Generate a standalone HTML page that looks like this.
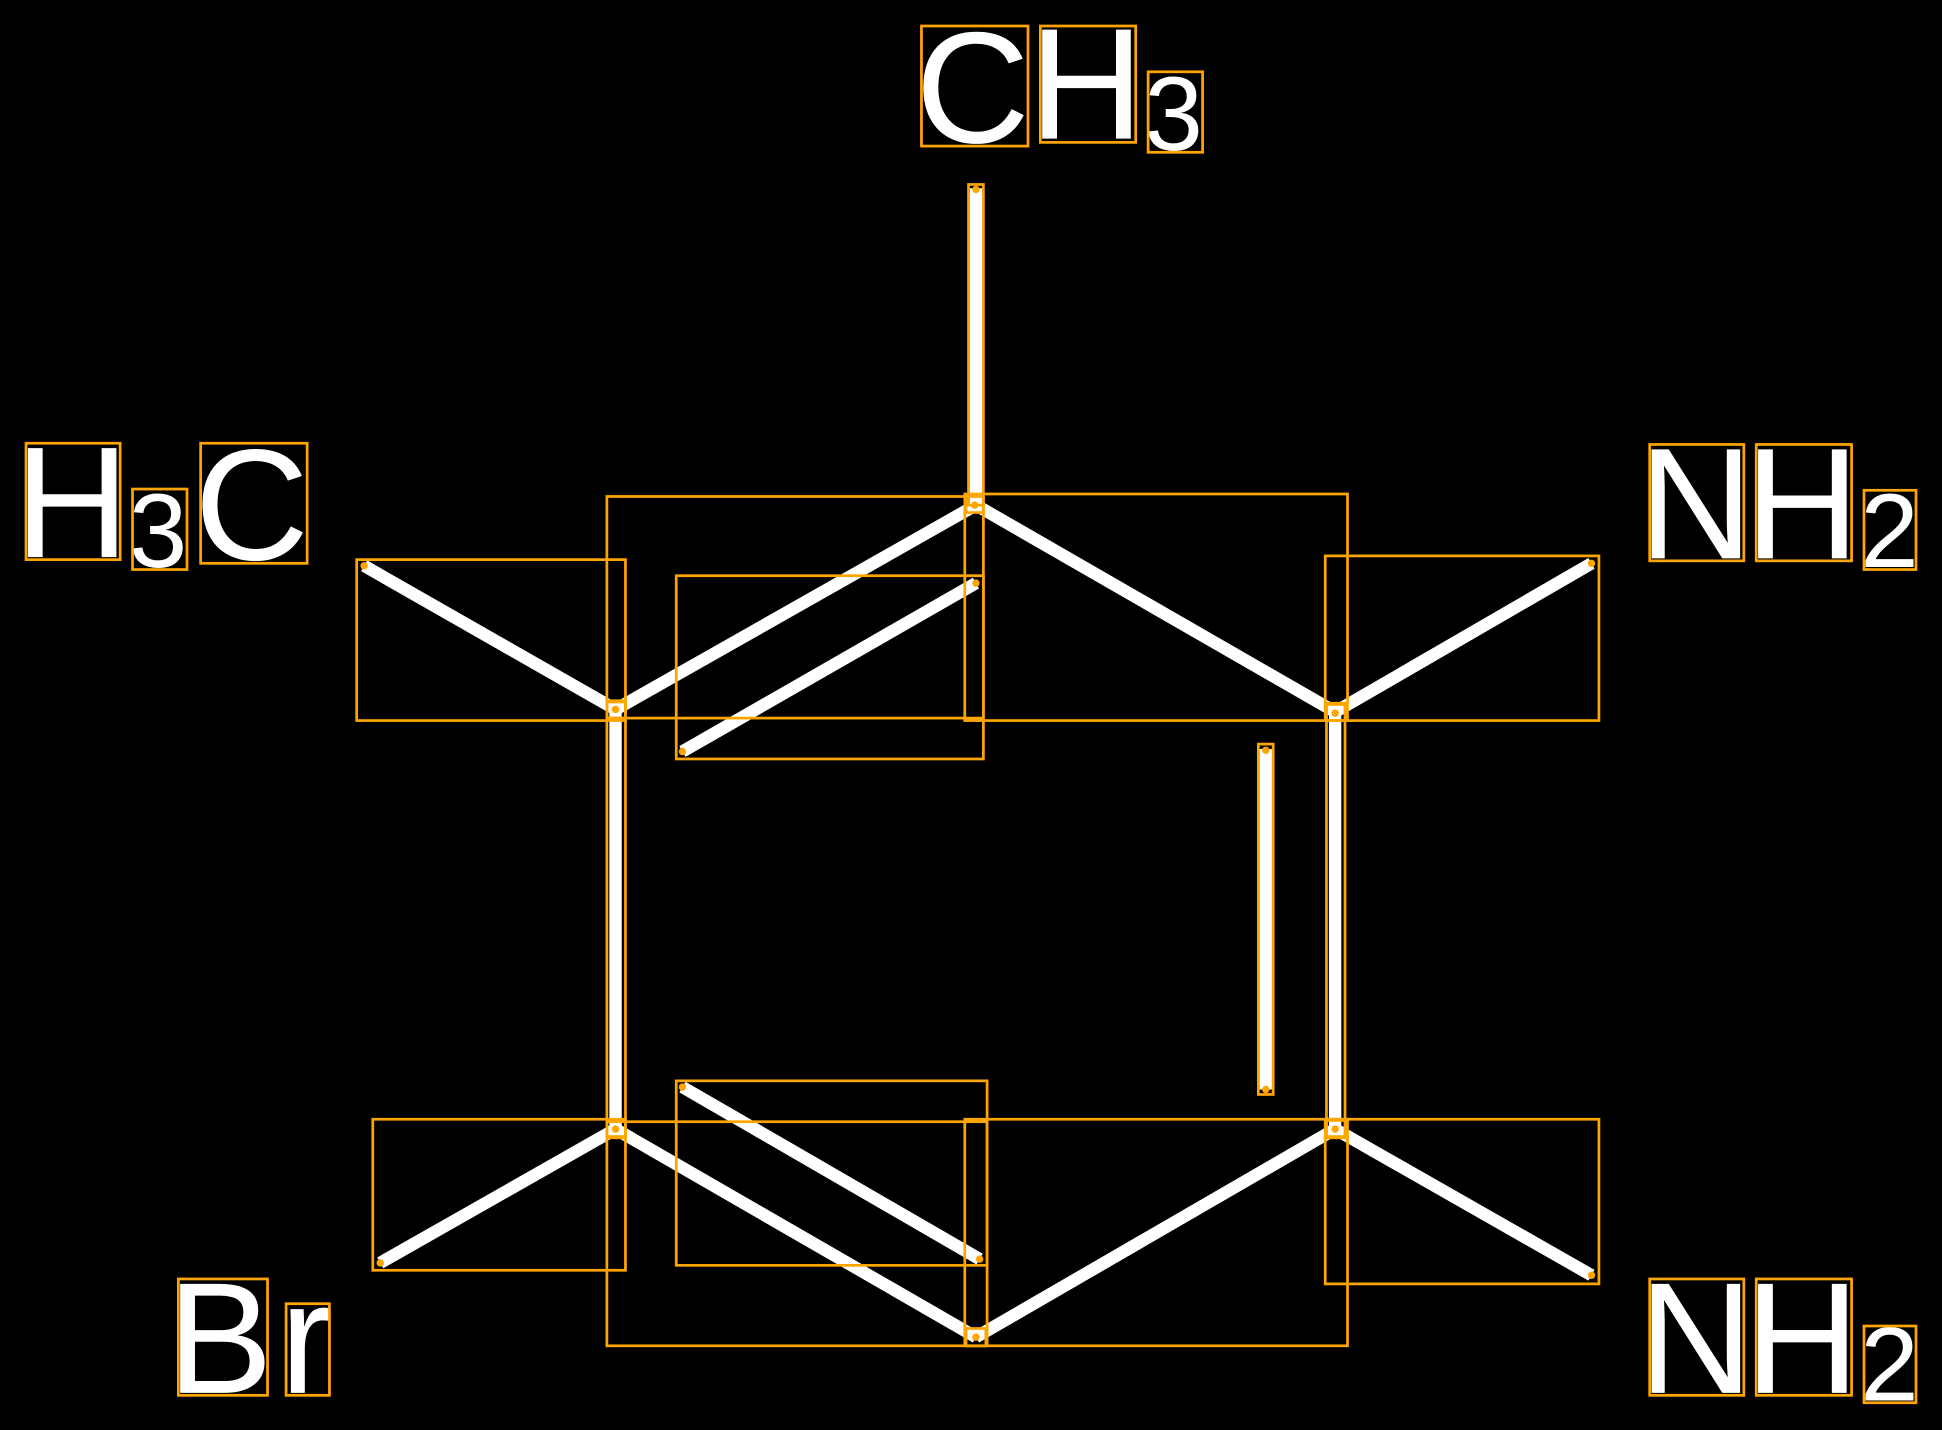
<!DOCTYPE html>
<html><head><style>html,body{margin:0;padding:0;background:#000;}svg{display:block}</style></head>
<body>
<svg width="1942" height="1430" viewBox="0 0 1568 1155" preserveAspectRatio="none" xmlns="http://www.w3.org/2000/svg">
<rect width="1568" height="1155" fill="#000"/>
<g stroke="#fff" stroke-width="10" stroke-linecap="butt" fill="none">
<line x1="788" y1="152" x2="788" y2="408"/>
<line x1="788" y1="408" x2="497" y2="573"/>
<line x1="788" y1="408" x2="1078" y2="575"/>
<line x1="497" y1="573" x2="294" y2="457"/>
<line x1="1078" y1="575" x2="1285" y2="455"/>
<line x1="497" y1="573" x2="497" y2="912"/>
<line x1="1078" y1="575" x2="1078" y2="912"/>
<line x1="1022" y1="605" x2="1022" y2="880"/>
<line x1="497" y1="912" x2="788" y2="1080"/>
<line x1="788" y1="1080" x2="1078" y2="912"/>
<line x1="497" y1="912" x2="307" y2="1020"/>
<line x1="1078" y1="912" x2="1285" y2="1030"/>
<line x1="551" y1="607" x2="788" y2="471"/>
<line x1="551" y1="878" x2="791" y2="1017"/>
</g>
<g fill="#fff" font-family="Liberation Sans, sans-serif">
<text x="739" y="115" font-size="128">C</text>
<text x="831" y="112" font-size="128">H</text>
<text x="924" y="121" font-size="85">3</text>
<text x="12" y="450" font-size="128">H</text>
<text x="104" y="458" font-size="85">3</text>
<text x="157" y="452" font-size="128">C</text>
<text x="1323" y="451" font-size="128">N</text>
<text x="1409" y="451" font-size="128">H</text>
<text x="1502" y="458" font-size="85">2</text>
<text x="1323" y="1125" font-size="128">N</text>
<text x="1409" y="1125" font-size="128">H</text>
<text x="1502" y="1131" font-size="85">2</text>
<text x="135" y="1125" font-size="128">B</text>
<text x="226" y="1125" font-size="128">r</text>
</g>
<g stroke="#ffa500" stroke-width="2.2" fill="none">
<rect x="744" y="21" width="86" height="97"/>
<rect x="840" y="21" width="77" height="94"/>
<rect x="927" y="58" width="44" height="65"/>
<rect x="21" y="358" width="76" height="94"/>
<rect x="107" y="395" width="44" height="65"/>
<rect x="162" y="358" width="86" height="97"/>
<rect x="1332" y="359" width="76" height="94"/>
<rect x="1418" y="359" width="77" height="94"/>
<rect x="1505" y="396" width="42" height="64"/>
<rect x="1332" y="1033" width="76" height="94"/>
<rect x="1418" y="1033" width="77" height="94"/>
<rect x="1505" y="1071" width="42" height="62"/>
<rect x="144" y="1033" width="72" height="94"/>
<rect x="231" y="1053" width="35" height="74"/>
<rect x="782" y="149" width="12" height="259"/>
<rect x="490" y="401" width="304" height="179"/>
<rect x="779" y="399" width="309" height="183"/>
<rect x="288" y="452" width="217" height="130"/>
<rect x="546" y="465" width="248" height="148"/>
<rect x="1070" y="449" width="221" height="133"/>
<rect x="490" y="567" width="15" height="351"/>
<rect x="1071" y="569" width="15" height="349"/>
<rect x="1016" y="601" width="12" height="283"/>
<rect x="490" y="906" width="307" height="181"/>
<rect x="779" y="904" width="309" height="183"/>
<rect x="301" y="904" width="204" height="122"/>
<rect x="546" y="873" width="251" height="149"/>
<rect x="1070" y="904" width="221" height="133"/>
<rect x="780" y="400" width="14" height="14"/>
<rect x="490" y="566" width="15" height="14"/>
<rect x="1071" y="568" width="15" height="14"/>
<rect x="490" y="905" width="15" height="14"/>
<rect x="1071" y="905" width="15" height="14"/>
<rect x="780" y="1073" width="16" height="14"/>
</g>
<g fill="#ffa500">
<circle cx="788" cy="153" r="3"/><circle cx="787" cy="408" r="3"/><circle cx="497" cy="573" r="3"/>
<circle cx="1078" cy="576" r="3"/><circle cx="294" cy="457" r="3"/><circle cx="1285" cy="455" r="3"/>
<circle cx="551" cy="607" r="3"/><circle cx="788" cy="471" r="3"/><circle cx="1022" cy="606" r="3"/>
<circle cx="1022" cy="880" r="3"/><circle cx="497" cy="912" r="3"/><circle cx="1078" cy="912" r="3"/>
<circle cx="551" cy="878" r="3"/><circle cx="791" cy="1017" r="3"/><circle cx="307" cy="1020" r="3"/>
<circle cx="1285" cy="1030" r="3"/><circle cx="788" cy="1080" r="3"/>
</g>
</svg>
</body></html>
